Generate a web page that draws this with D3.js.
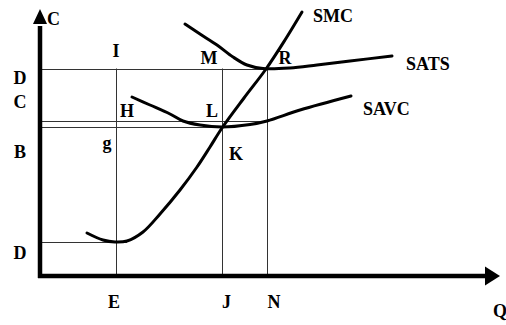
<!DOCTYPE html>
<html>
<head>
<meta charset="utf-8">
<script src="https://cdn.jsdelivr.net/npm/d3@7"></script>
<style>
  body { margin: 0; background: #fff; }
  text { font-family: "Liberation Serif", "Times New Roman", serif; font-weight: bold; font-size: 18px; fill: #000; }
</style>
</head>
<body>
<div id="plot"></div>
<script>
// quantity levels (x) and cost levels (y)
const qLabels = ["E", "J", "N"];
const qValues = [15.2, 36.5, 45.4];
const cLabels = ["D", "C", "B", "D"];
const cValues = [41.5, 31, 29.8, 6.8];

// short-run curves as [q, c]
const smc = [[9.4, 8.6], [12.6, 7.2], [15, 6.8], [17.4, 7], [20.6, 8.8], [24, 12.4], [28, 17.2],
  [31.4, 21.8], [34, 25.8], [36.4, 29.6], [40.8, 35.6], [45.2, 41.4], [49, 47.2], [52.4, 52.8]];
const sats = [[29, 50.4], [32, 48.4], [35.4, 46.2], [38.6, 43.8], [41.4, 42.2], [44.6, 41.5],
  [50, 41.6], [55.4, 42.2], [62, 43], [70.4, 44]];
const savc = [[18.4, 35.8], [22, 34.2], [26, 32.4], [28.6, 31], [32, 30.2], [36.4, 29.8],
  [42, 30.3], [45.4, 31], [52, 33.2], [62.2, 36]];

const curveNames = ["SMC", "SATS", "SAVC"];
// point letters sitting on the chart
const pointLabels = ["I", "M", "R", "H", "L", "g", "K"];
const pointValues = [[15.2, 41.5], [33.8, 41.5], [49, 41.5], [17.4, 31], [34.4, 31], [13.4, 29.8], [39.2, 29.8]];

const width = 506, height = 325;
const svg = d3.select("#plot").append("svg")
  .attr("width", width)
  .attr("height", height)
  .style("background-color", "white");

const x = d3.scaleLinear().domain([0, 92]).range([40, 500]);
const y = d3.scaleLinear().domain([0, 53.4]).range([276, 9]);

// thin guide lines
const grid = svg.append("g").attr("stroke", "#333").attr("stroke-width", 1).attr("fill", "none");
const hEnd = [qValues[2], qValues[2], qValues[1], 17.4];
cValues.forEach((c, i) => {
  grid.append("line")
    .attr("x1", x(0)).attr("x2", x(hEnd[i]))
    .attr("y1", Math.round(y(c)) + 0.5).attr("y2", Math.round(y(c)) + 0.5);
});
qValues.forEach(q => {
  grid.append("line")
    .attr("x1", Math.round(x(q)) + 0.5).attr("x2", Math.round(x(q)) + 0.5)
    .attr("y1", y(0)).attr("y2", y(cValues[0]));
});

// curves
const line = d3.line()
  .x(d => x(d[0]))
  .y(d => y(d[1]))
  .curve(d3.curveCatmullRom);

[smc, sats, savc].forEach(s => {
  svg.append("path")
    .datum(s)
    .attr("fill", "none")
    .attr("stroke", "#000")
    .attr("stroke-width", 3)
    .attr("stroke-linecap", "round")
    .attr("d", line);
});

// axes with arrows
svg.append("line")
  .attr("x1", x(0)).attr("x2", x(0))
  .attr("y1", y(0) + 2).attr("y2", y(50))
  .attr("stroke", "#000").attr("stroke-width", 4.5);
svg.append("line")
  .attr("x1", x(0) - 2).attr("x2", x(89))
  .attr("y1", y(0)).attr("y2", y(0))
  .attr("stroke", "#000").attr("stroke-width", 4.5);
svg.append("path")
  .attr("d", `M${x(0)},${y(53.4)} L${x(0) - 7},${y(50.4)} L${x(0) + 7},${y(50.4)} Z`)
  .attr("fill", "#000");
svg.append("path")
  .attr("d", `M${x(92)},${y(0)} L${x(89)},${y(0) - 9.5} L${x(89)},${y(0) + 9.5} Z`)
  .attr("fill", "#000");

// axis letters
svg.append("text").attr("x", x(0) + 7).attr("y", 25).text("C");
svg.append("text").attr("x", x(92)).attr("y", 317).attr("text-anchor", "middle").text("Q");

qLabels.forEach((t, i) => {
  svg.append("text")
    .attr("x", x(qValues[i]) + [-2, 4, 7][i])
    .attr("y", 308)
    .attr("text-anchor", "middle")
    .text(t);
});
const cDy = [15.5, -13, 31, 17];
cLabels.forEach((t, i) => {
  svg.append("text")
    .attr("x", 20)
    .attr("y", y(cValues[i]) + cDy[i])
    .attr("text-anchor", "middle")
    .text(t);
});

// point letters
const pDy = [-12, -5, -5, -4, -4, 22, 33];
pointLabels.forEach((t, i) => {
  svg.append("text")
    .attr("x", x(pointValues[i][0]))
    .attr("y", y(pointValues[i][1]) + pDy[i])
    .attr("text-anchor", "middle")
    .text(t);
});

// curve names at the curve ends
const nameAt = [[smc[smc.length - 1], 11, 10], [sats[sats.length - 1], 14, 14], [savc[savc.length - 1], 12, 19]];
curveNames.forEach((t, i) => {
  const [p, dx, dy] = nameAt[i];
  svg.append("text")
    .attr("x", x(p[0]) + dx)
    .attr("y", y(p[1]) + dy)
    .text(t);
});
</script>
</body>
</html>
